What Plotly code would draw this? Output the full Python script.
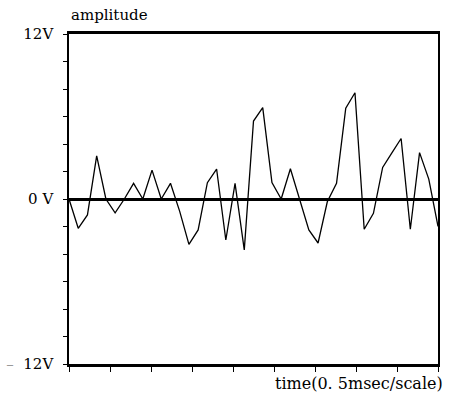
import plotly.graph_objects as go

# samples (0.225 scale units apart), amplitude in volts
t_index = list(range(41))
amplitude_v = [0, -2.13, -1.16, 3.13, 0, -1.0, 0, 1.14, 0, 2.1,
               0, 1.14, -0.9, -3.3, -2.25, 1.19, 2.18, -2.98, 1.14, -3.7,
               5.67, 6.64, 1.19, 0, 2.2, 0, -2.25, -3.2, -0.2, 1.14,
               6.6, 7.73, -2.2, -1.04, 2.3, 3.35, 4.4, -2.2, 3.37, 1.45,
               -2.0]
time_scale = [i * 9 / 40 for i in t_index]

y_tickvals = [-12, -10, -8, -6, -4, -2, 0, 2, 4, 6, 8, 10, 12]
y_ticktext = ["<span style='color:#999'>\u2013</span>\u00a0\u00a012V",
              "", "", "", "", "", "0\u00a0V", "", "", "", "", "", "12V"]
x_tickvals = list(range(10))

FONT = "DejaVu Serif"

fig = go.Figure()
fig.add_trace(go.Scatter(x=time_scale, y=amplitude_v, mode="lines",
                         line=dict(color="black", width=1.3),
                         hoverinfo="skip", showlegend=False))

fig.update_layout(
    width=460, height=396,
    margin=dict(l=69, r=22, t=34, b=32, autoexpand=False),
    paper_bgcolor="white", plot_bgcolor="white",
    font=dict(family=FONT, size=15, color="black"),
    xaxis=dict(range=[0, 9], tickvals=x_tickvals, showticklabels=False,
               ticks="outside", ticklen=5, tickwidth=1.2, tickcolor="black",
               showline=True, linewidth=3, linecolor="black", mirror=True,
               showgrid=False, zeroline=False, automargin=False),
    yaxis=dict(range=[-12, 12], tickvals=y_tickvals, ticktext=y_ticktext,
               ticks="outside", ticklen=4, tickwidth=1.2, tickcolor="black",
               ticklabelstandoff=7, automargin=False,
               showline=True, linewidth=1.5, linecolor="black", mirror=True,
               showgrid=False, zeroline=True, zerolinewidth=3,
               zerolinecolor="black",
               tickfont=dict(family=FONT, size=15, color="black")),
    annotations=[
        dict(text="amplitude", xref="paper", yref="paper", x=0, y=1,
             xanchor="left", yanchor="bottom", yshift=8, showarrow=False,
             font=dict(family=FONT, size=15, color="black")),
        dict(text="time(0. 5msec/scale)", xref="paper", yref="paper", x=1,
             y=0, xanchor="right", yanchor="top", xshift=7, yshift=-8,
             showarrow=False, font=dict(family=FONT, size=16, color="black")),
    ],
)

fig.write_html("out.html")
